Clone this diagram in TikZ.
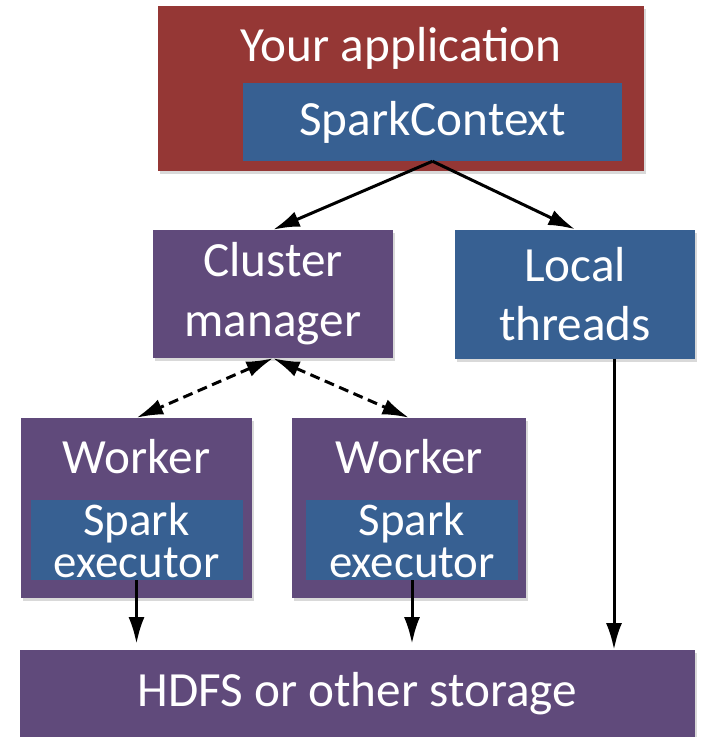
\documentclass[tikz,border=0pt]{standalone}
\usepackage{fontspec}
\setmainfont{Carlito}
\usetikzlibrary{shapes,arrows.meta,shadows}
\definecolor{appred}{HTML}{953735}
\definecolor{sparkblue}{HTML}{376092}
\definecolor{nodepurple}{HTML}{604A7B}
\tikzset{
block/.style={rectangle, text=white, text centered, align=center, inner sep=0pt},
shadowed/.style={block, drop shadow={shadow xshift=0.07cm, shadow yshift=-0.09cm, opacity=0.3}},
title/.style={text=white, anchor=north, yshift=-0.65cm, inner sep=0pt},
line/.style={draw, line width=0.09cm, -{Latex[length=8mm, width=4.8mm]}},
dline/.style={draw, line width=0.09cm, dash pattern=on 0.3cm off 0.17cm, {Latex[length=8mm, width=4.8mm]}-{Latex[length=8mm, width=4.8mm]}}
}

\begin{document}
\begin{tikzpicture}[node distance = 6.165cm, font=\fontsize{42}{51}\selectfont]
    \useasboundingbox (0,0) rectangle (21,-22.11);
    % Place nodes
    \node [shadowed, fill=appred, minimum width=14.58cm, minimum height=4.95cm, label={[title]north:Your application}] (app) at (12.03,-2.655) {};
    \node [block, fill=sparkblue, minimum width=11.37cm, minimum height=2.34cm] (context) at ([xshift=0.945cm, yshift=-1.005cm]app.center) {SparkContext};
    \node [shadowed, fill=nodepurple, minimum width=7.2cm, minimum height=3.84cm, below of=app, xshift=-3.84cm] (cluster) {Cluster\\manager};
    \node [shadowed, fill=sparkblue, minimum width=7.2cm, minimum height=3.87cm, right of=cluster, node distance=9.06cm] (local) {Local\\threads};
    \node [shadowed, fill=nodepurple, minimum width=6.93cm, minimum height=5.4cm, below of=cluster, node distance=6.42cm, xshift=-4.095cm, label={[title]north:Worker}] (worker1) {};
    \node [shadowed, fill=nodepurple, minimum width=7.02cm, minimum height=5.4cm, right of=worker1, node distance=8.175cm, label={[title]north:Worker}] (worker2) {};
    \node [block, fill=sparkblue, minimum width=6.36cm, minimum height=2.4cm, below of=worker1, node distance=0.96cm, font=\fontsize{40}{36}\selectfont] (executor1) {Spark\\executor};
    \node [block, fill=sparkblue, minimum width=6.36cm, minimum height=2.4cm, below of=worker2, node distance=0.96cm, xshift=0.09cm, font=\fontsize{40}{36}\selectfont] (executor2) {Spark\\executor};
    \node [shadowed, fill=nodepurple, minimum width=20.25cm, minimum height=2.61cm] (storage) at (10.725,-20.805) {HDFS or other storage};
    % Draw edges
    \path [line] (context.south) -- (cluster.north);
    \path [line] (context.south) -- (local.north);
    \path [dline] (cluster.south) -- (worker1.north);
    \path [dline] (cluster.south) -- (worker2.north);
    \path [line, shorten >=0.18cm] (executor1.south) -- (executor1.south |- storage.north);
    \path [line, shorten >=0.18cm] (executor2.south) -- (executor2.south |- storage.north);
    \path [line] ([xshift=1.17cm]local.south) -- ([xshift=1.17cm]local.south |- storage.north);
\end{tikzpicture}
\end{document}
